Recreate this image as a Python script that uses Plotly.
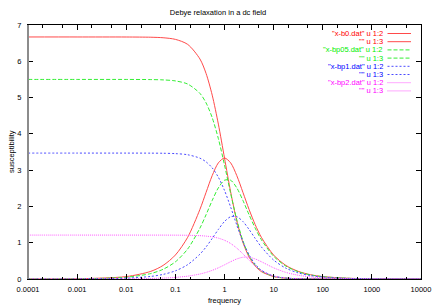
import plotly.graph_objects as go

# ---- data ----
freq = [0.0001, 0.001, 0.01, 0.0316, 0.0562, 0.1, 0.178, 0.316, 0.422, 0.562, 0.75, 1,
        1.334, 1.778, 2.371, 3.162, 4.217, 5.623, 10, 17.78, 31.62, 56.23, 100, 316.2, 1000, 10000]

b0_re = [6.67, 6.67, 6.669, 6.663, 6.649, 6.604, 6.466, 6.064, 5.663, 5.067, 4.269, 3.335,
         2.401, 1.602, 1.007, 0.606, 0.355, 0.2045, 0.066, 0.021, 0.0067, 0.0021, 0.0007, 0.0001, 0, 0]
b0_im = [0.00067, 0.0067, 0.0667, 0.2107, 0.3739, 0.6604, 1.1496, 1.9175, 2.388, 2.850, 3.201, 3.335,
         3.201, 2.850, 2.388, 1.9175, 1.4976, 1.1496, 0.6604, 0.3739, 0.2107, 0.1186, 0.0667, 0.0211, 0.0067, 0.0007]

bp05_re = [5.5, 5.5, 5.4996, 5.4959, 5.487, 5.4591, 5.3726, 5.1163, 4.8529, 4.4458, 3.8686, 3.143,
           2.357, 1.6314, 1.0542, 0.6471, 0.3837, 0.2225, 0.0724, 0.0231, 0.0073, 0.0023, 0.0007, 0.0001, 0, 0]
bp05_im = [0.0005, 0.0048, 0.0476, 0.1505, 0.2672, 0.4727, 0.8273, 1.4011, 1.7722, 2.165, 2.5122, 2.7217,
           2.7217, 2.5122, 2.165, 1.7722, 1.4011, 1.0837, 0.6268, 0.3557, 0.2006, 0.1129, 0.0635, 0.0201, 0.0064, 0.0006]

bp1_re = [3.47, 3.47, 3.4699, 3.4685, 3.4654, 3.4554, 3.4243, 3.3296, 3.2279, 3.0617, 2.8049, 2.4408,
          1.983, 1.487, 1.0292, 0.6651, 0.4083, 0.2421, 0.0804, 0.0258, 0.0082, 0.0026, 0.0008, 0.0001, 0, 0]
bp1_im = [0.0002, 0.0023, 0.0225, 0.0712, 0.1266, 0.2244, 0.3954, 0.6837, 0.884, 1.1181, 1.3659, 1.585,
          1.7172, 1.7172, 1.585, 1.3659, 1.1181, 0.884, 0.522, 0.2983, 0.1686, 0.095, 0.0534, 0.0169, 0.0053, 0.0005]

bp2_re = [1.21, 1.21, 1.21, 1.2098, 1.2095, 1.2084, 1.2049, 1.1941, 1.182, 1.161, 1.1256, 1.0676,
          0.9781, 0.8511, 0.6915, 0.5185, 0.3589, 0.2319, 0.0844, 0.028, 0.009, 0.0029, 0.0009, 0.0001, 0, 0]
bp2_im = [0.00004, 0.0004, 0.0044, 0.014, 0.0248, 0.0441, 0.0783, 0.1379, 0.182, 0.2384, 0.3082, 0.3899,
          0.4763, 0.5527, 0.5988, 0.5988, 0.5527, 0.4763, 0.3082, 0.182, 0.104, 0.0588, 0.0331, 0.0105, 0.0033, 0.0003]

x_tickvals = [0.0001, 0.001, 0.01, 0.1, 1, 10, 100, 1000, 10000]
x_ticktext = ["0.0001", "0.001", "0.01", "0.1", "1", "10", "100", "1000", "10000"]
y_tickvals = [0, 1, 2, 3, 4, 5, 6, 7]

files = ['"x-b0.dat"', '"x-bp05.dat"', '"x-bp1.dat"', '"x-bp2.dat"']
series_re = [b0_re, bp05_re, bp1_re, bp2_re]
series_im = [b0_im, bp05_im, bp1_im, bp2_im]

# ---- styles ----
colors = ["#ff0000", "#00ee00", "#0000ff", "#ff00ff"]
line_colors = ["#ff4a4a", "#33ee33", "#4a4aff", "#ff55ff"]
dashes = ["solid", "4px,2px", "2px,2px", "1px,1px"]
FONT = "Liberation Sans, Arial, sans-serif"

W, H = 436, 305
ML, MR, MT, MB = 28, 15, 25, 26
PW, PH = W - ML - MR, H - MT - MB


def px(xp):
    return (xp - ML) / PW


def py(yp):
    return (H - MB - yp) / PH


fig = go.Figure()
for i in range(4):
    for ys in (series_re[i], series_im[i]):
        fig.add_trace(go.Scatter(
            x=freq, y=ys, mode="lines",
            line=dict(color=line_colors[i], width=1, dash=dashes[i], shape="spline", smoothing=0.8),
            showlegend=False, hoverinfo="skip"))

# gnuplot-style key: right-aligned text, sample line to the right
annotations = []
shapes = []
row = 0
for i in range(4):
    for lab in (files[i] + " u 1:2", '"" u 1:3'):
        yy = 33.5 + row * 8.2
        annotations.append(dict(
            x=px(385), y=py(yy), xref="paper", yref="paper", text=lab,
            showarrow=False, xanchor="right", yanchor="middle",
            font=dict(family=FONT, size=7.5, color=colors[i])))
        shapes.append(dict(
            type="line", xref="paper", yref="paper",
            x0=px(387.5), x1=px(411), y0=py(yy), y1=py(yy),
            line=dict(color=line_colors[i], width=1, dash=dashes[i])))
        row += 1

# axis titles placed as in the reference
annotations.append(dict(x=px(224), y=py(300), xref="paper", yref="paper", text="frequency",
                        showarrow=False, xanchor="center", yanchor="middle",
                        font=dict(family=FONT, size=7.5, color="black")))
annotations.append(dict(x=px(11), y=py(152), xref="paper", yref="paper", text="susceptibility",
                        showarrow=False, xanchor="center", yanchor="middle", textangle=-90,
                        font=dict(family=FONT, size=7.5, color="black")))

# grey left border as in the reference
shapes.append(dict(type="line", xref="paper", yref="paper", x0=0, x1=0, y0=0, y1=1,
                   line=dict(color="#8c8c8c", width=2), layer="above"))

fig.update_layout(
    width=W, height=H,
    margin=dict(l=ML, r=MR, t=MT, b=MB, pad=0),
    paper_bgcolor="white", plot_bgcolor="white",
    font=dict(family=FONT, size=7.5, color="black"),
    title=dict(text="Debye relaxation in a dc field", x=218 / W, xref="container",
               y=1 - 12.5 / H, yref="container", xanchor="center", yanchor="middle",
               font=dict(family=FONT, size=7.5, color="black")),
    annotations=annotations,
    shapes=shapes,
    showlegend=False,
)

fig.update_xaxes(
    type="log", range=[-4, 4],
    tickmode="array", tickvals=x_tickvals, ticktext=x_ticktext,
    ticks="inside", ticklen=5, tickcolor="black", tickwidth=1,
    minor=dict(ticks="inside", ticklen=2.5, tickcolor="black", dtick="D2"),
    showline=True, linecolor="black", linewidth=1, mirror="allticks",
    showgrid=False, zeroline=False, automargin=False,
    ticklabelstandoff=3,
    tickfont=dict(family=FONT, size=7.5, color="black"),
)
fig.update_yaxes(
    range=[0, 7], tickmode="array", tickvals=y_tickvals,
    ticks="inside", ticklen=5, tickcolor="black", tickwidth=1,
    showline=True, linecolor="black", linewidth=1, mirror="allticks",
    showgrid=False, zeroline=False, automargin=False,
    ticklabelstandoff=4,
    tickfont=dict(family=FONT, size=7.5, color="black"),
)

fig.write_html(
    "out.html",
    config={"displayModeBar": False},
    post_script="document.body.style.margin='0';document.body.style.overflow='hidden';",
)
